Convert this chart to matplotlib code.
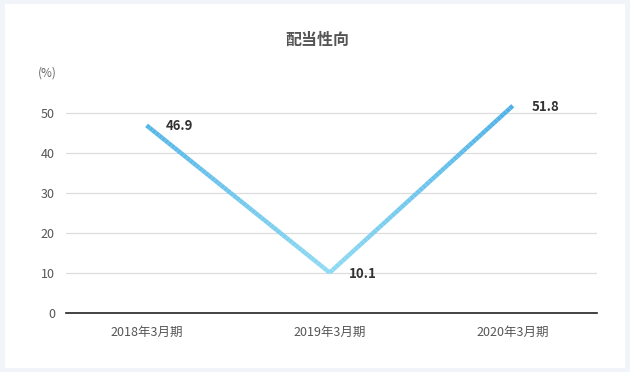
import matplotlib
matplotlib.use("Agg")
import matplotlib.pyplot as plt
import numpy as np
from matplotlib.collections import LineCollection
from matplotlib.colors import LinearSegmentedColormap
from matplotlib.patches import Rectangle

plt.rcParams['font.family'] = ['Noto Sans CJK JP', 'DejaVu Sans']

categories = ['2018年3月期', '2019年3月期', '2020年3月期']
values = [46.9, 10.1, 51.8]
labels = ['46.9', '10.1', '51.8']
yticks = [0, 10, 20, 30, 40, 50]
title = '配当性向'
unit = '(%)'

W, H = 630, 372
fig = plt.figure(figsize=(W / 100, H / 100), dpi=100)
fig.patch.set_facecolor('#f1f5f9')
fig.patches.append(Rectangle((5 / W, 4 / H), 620 / W, 364 / H, transform=fig.transFigure,
                             facecolor='white', edgecolor='none', zorder=-5))

ax = fig.add_axes([66 / W, (H - 313) / H, (597 - 66) / W, 235 / H])
ax.set_zorder(2)
ax.set_facecolor('none')
ax.set_xlim(-0.44, 2.46)
ax.set_ylim(0, 58.75)
for s in ['top', 'right', 'left']:
    ax.spines[s].set_visible(False)
ax.spines['bottom'].set_color('#222222')
ax.spines['bottom'].set_linewidth(1.2)
ax.set_yticks(yticks)
ax.set_yticklabels([str(t) for t in yticks])
ax.set_xticks(range(len(categories)))
ax.set_xticklabels(categories)
ax.tick_params(axis='both', length=0, colors='#555555', labelsize=9)
ax.tick_params(axis='y', pad=8)
ax.tick_params(axis='x', pad=9)
for t in yticks[1:]:
    ax.axhline(t, color='#dddddd', linewidth=0.9, zorder=1)

# gradient line
x = np.arange(len(values), dtype=float)
y = np.array(values)
xs = np.concatenate([np.linspace(x[i], x[i + 1], 60) for i in range(len(x) - 1)])
ys = np.concatenate([np.linspace(y[i], y[i + 1], 60) for i in range(len(y) - 1)])
pts = np.array([xs, ys]).T.reshape(-1, 1, 2)
segs = np.concatenate([pts[:-1], pts[1:]], axis=1)
cmap = LinearSegmentedColormap.from_list('g', ['#8fdaf2', '#4aaee6'])
mid = (ys[:-1] + ys[1:]) / 2
lc = LineCollection(segs, cmap=cmap, norm=plt.Normalize(10, 55), linewidths=3.2,
                    capstyle='butt', zorder=3)
lc.set_array(mid)
ax.add_collection(lc)

for xi, yi, lab in zip(x, y, labels):
    ax.annotate(lab, (xi, yi), xytext=(19, -1), textcoords='offset pixels',
                ha='left', va='center', fontsize=9.5, fontweight='bold', color='#333333', zorder=4)

fig.text(317 / W, 1 - 40 / H, title, ha='center', va='center', fontsize=11.5,
         fontweight='bold', color='#555555')
fig.text(47 / W, 1 - 73 / H, unit, ha='center', va='center', fontsize=8.5, color='#666666')

fig.savefig('out.png', dpi=100)
